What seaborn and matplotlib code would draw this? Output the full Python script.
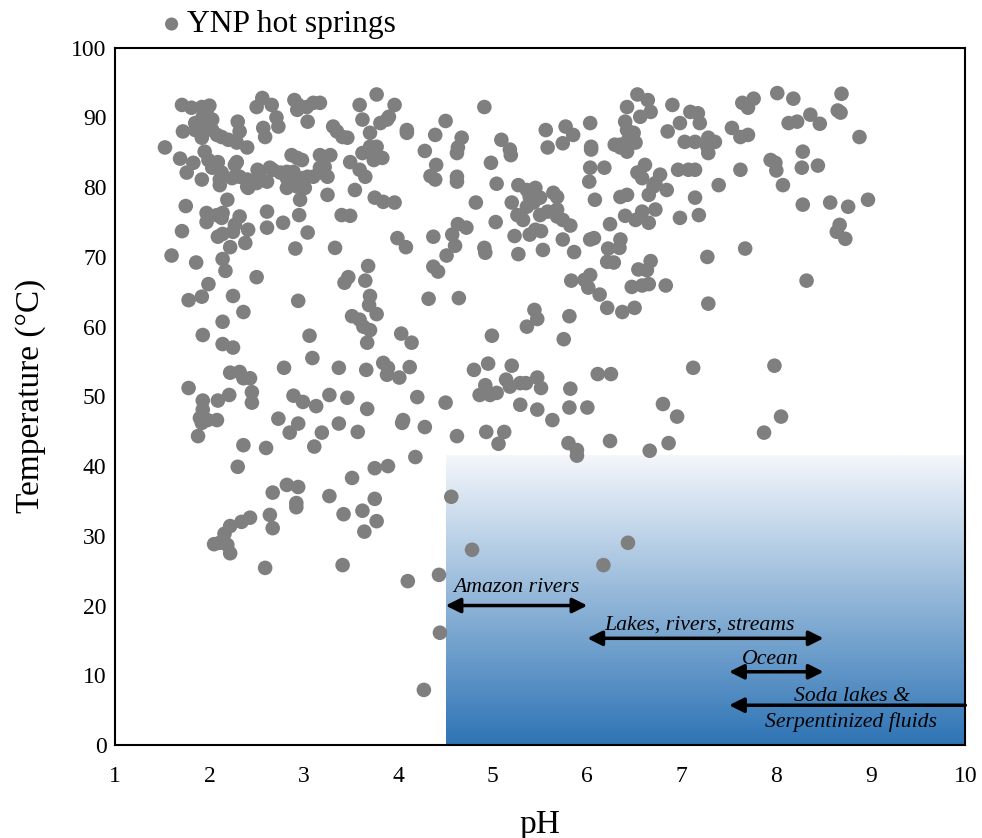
import numpy as np
import pandas as pd
import matplotlib
matplotlib.use("Agg")
import matplotlib.pyplot as plt
from matplotlib.colors import LinearSegmentedColormap
import seaborn as sns

# ---- Data: (pH, Temperature °C) pairs ----
points = [
    # low pH, hot (T 77-95)
    (1.71, 91.8), (1.81, 91.4), (1.92, 91.5), (2.00, 91.7), (1.97, 90.8), (2.03, 89.7), (1.93, 90.1),
    (1.85, 89.2), (1.93, 88.7), (1.72, 88.0), (1.85, 88.2), (1.92, 87.1), (2.03, 88.2), (2.08, 87.5),
    (2.13, 87.2), (2.20, 86.8), (2.29, 86.4), (2.32, 88.0), (2.30, 89.4), (2.40, 85.7), (1.53, 85.7),
    (1.69, 84.1), (1.83, 83.5), (1.76, 82.1), (1.92, 81.1), (1.95, 85.1), (1.99, 83.9), (2.09, 83.6),
    (2.13, 82.1), (2.03, 82.8), (2.11, 81.1), (2.11, 80.3), (2.24, 81.3), (2.27, 83.2), (2.29, 83.6),
    (2.32, 81.5), (2.40, 81.1), (2.40, 80.1), (2.51, 82.5), (2.53, 81.5), (2.64, 82.8), (2.67, 82.5),
    (2.75, 82.1), (2.82, 82.2), (2.89, 82.2), (2.82, 81.3), (2.93, 81.1), (2.99, 81.3), (3.04, 81.5),
    (3.10, 81.5), (3.19, 82.1), (3.25, 81.5), (2.61, 80.8), (2.41, 79.9), (2.50, 80.6), (2.82, 79.9),
    (2.93, 80.1), (3.01, 79.9), (3.17, 82.8), (3.22, 82.9), (3.54, 79.6), (3.49, 83.6), (3.59, 82.5),
    (3.65, 81.5), (3.62, 84.9), (3.70, 85.8), (3.77, 85.8), (3.83, 84.2), (3.74, 83.9), (3.70, 87.8),
    (3.62, 89.7), (3.59, 91.8), (3.77, 93.3), (3.81, 89.2), (3.88, 89.7), (3.90, 90.1), (3.96, 91.8),
    (4.09, 88.2), (4.09, 87.8), (3.31, 88.7), (3.35, 88.0), (3.41, 87.2), (3.46, 87.1), (3.17, 92.1),
    (3.10, 92.1), (3.03, 91.5), (2.94, 91.8), (2.90, 92.5), (2.93, 91.1), (3.04, 89.4), (2.71, 90.0),
    (2.73, 88.7), (2.57, 88.5), (2.59, 87.2), (2.50, 91.5), (2.56, 92.8), (2.66, 91.8), (3.28, 84.6),
    (2.87, 84.6), (2.93, 84.2), (2.98, 83.9), (3.17, 84.6), (1.75, 77.3), (2.19, 78.2), (2.96, 78.2),
    (3.25, 78.9), (3.75, 78.5), (3.84, 77.9), (3.96, 77.8),
    # low pH, T 58-77
    (1.97, 76.3), (2.08, 76.0), (2.14, 76.3), (1.97, 75.0), (2.13, 75.6), (2.32, 75.8), (2.27, 74.6),
    (2.25, 73.6), (2.09, 72.9), (2.14, 73.3), (2.41, 73.9), (2.38, 72.0), (2.22, 71.4), (1.71, 73.7),
    (1.60, 70.2), (1.86, 69.2), (2.14, 69.7), (2.17, 68.0), (1.99, 66.1), (1.92, 64.3), (1.78, 63.8),
    (2.25, 64.4), (2.36, 62.1), (2.14, 60.7), (1.93, 58.8), (2.50, 67.1), (2.61, 76.5), (2.61, 74.2),
    (2.78, 74.9), (2.95, 76.0), (3.04, 73.5), (2.91, 71.2), (2.94, 63.7), (3.33, 71.3), (3.40, 76.0),
    (3.49, 75.9), (3.99, 72.7), (4.08, 71.4), (3.68, 68.7), (3.47, 67.1), (3.43, 66.3), (3.65, 66.6),
    (3.70, 64.4), (3.69, 63.1), (3.77, 61.8), (3.51, 61.5), (3.59, 61.0), (3.63, 60.0), (3.70, 59.5),
    (4.03, 59.0), (3.06, 58.7),
    # low pH, T 39-58
    (2.14, 57.5), (2.25, 57.0), (3.09, 55.5), (2.79, 54.1), (3.37, 54.1), (3.66, 53.8), (3.67, 57.7),
    (4.14, 57.7), (3.84, 54.8), (3.89, 54.1), (3.88, 53.1), (4.01, 52.7), (4.12, 54.2), (2.22, 53.4),
    (2.32, 53.5), (2.36, 52.6), (2.43, 52.6), (1.78, 51.2), (1.93, 49.4), (2.09, 49.4), (2.21, 50.2),
    (2.45, 50.6), (2.45, 49.1), (1.93, 48.1), (1.90, 46.9), (1.92, 46.2), (1.98, 46.6), (2.08, 46.6),
    (1.88, 44.3), (2.36, 43.0), (2.60, 42.6), (2.73, 46.8), (2.89, 50.1), (2.99, 49.2), (2.94, 46.1),
    (2.85, 44.8), (3.13, 48.6), (3.27, 50.2), (3.46, 49.8), (3.67, 48.2), (3.19, 44.8), (3.37, 46.1),
    (3.57, 44.9), (3.11, 42.8), (4.04, 46.2), (4.05, 46.6), (4.20, 49.9), (4.18, 41.3), (2.30, 39.9),
    (3.75, 39.7), (3.89, 40.0),
    # cooler springs
    (2.67, 36.2), (2.82, 37.3), (2.94, 37.0), (2.92, 34.7), (2.92, 34.1), (3.27, 35.7), (3.51, 38.3),
    (3.75, 35.3), (3.62, 33.6), (3.77, 32.1), (3.64, 30.6), (3.42, 33.1), (2.64, 33.0), (2.67, 31.1),
    (2.43, 32.6), (2.34, 32.0), (2.22, 31.4), (2.16, 30.3), (2.05, 28.8), (2.11, 29.0), (2.19, 28.7),
    (2.22, 27.5), (2.59, 25.4), (3.41, 25.8), (4.56, 35.6), (4.10, 23.5), (4.43, 24.4), (4.78, 28.0),
    (6.43, 29.0), (6.17, 25.8), (4.44, 16.1), (4.27, 7.9),
    # mid pH, hot
    (4.91, 91.5), (4.50, 89.5), (4.39, 87.5), (4.67, 87.1), (4.28, 85.2), (4.63, 85.7), (4.62, 84.9),
    (4.40, 83.2), (4.34, 81.6), (4.39, 81.1), (4.62, 81.5), (4.62, 80.8), (4.98, 83.5), (5.09, 86.8),
    (5.18, 85.4), (5.19, 84.6), (5.04, 80.5), (4.82, 77.8), (5.27, 80.3), (5.36, 79.6), (5.45, 79.9),
    (5.39, 78.6), (5.50, 78.5), (5.64, 79.2), (5.68, 78.6), (5.20, 77.8), (5.56, 88.2), (5.58, 85.7),
    (5.77, 88.7), (5.85, 87.5), (5.74, 86.3), (6.03, 89.2), (6.04, 85.8), (6.04, 85.4), (6.03, 82.8),
    (6.02, 80.8), (6.18, 82.8), (6.08, 78.2), (6.35, 86.1), (6.40, 89.4), (6.42, 88.2), (6.45, 87.2),
    (6.49, 87.8), (6.29, 86.1), (6.35, 85.7), (6.42, 85.1), (6.43, 86.7), (6.51, 86.4), (6.42, 91.5),
    (6.53, 93.3), (6.64, 92.5), (6.67, 90.8), (6.56, 90.1), (6.90, 91.8), (7.09, 90.8), (6.98, 89.2),
    (6.85, 88.0), (7.17, 90.6), (7.03, 86.5), (7.14, 86.5), (6.61, 83.2), (6.53, 82.1), (6.58, 81.3),
    (6.77, 81.8), (6.72, 80.6), (6.84, 79.6), (6.70, 80.1), (6.96, 82.5), (7.07, 82.5), (7.14, 82.5),
    (6.65, 78.9), (6.35, 78.6), (6.42, 78.9), (7.14, 78.5),
    # mid pH, T 60-77
    (5.26, 76.0), (5.32, 75.3), (5.36, 77.2), (5.43, 77.8), (5.50, 76.0), (5.58, 76.5), (5.68, 76.8),
    (5.68, 75.8), (5.74, 75.3), (5.82, 74.5), (6.24, 74.7), (6.40, 75.9), (6.51, 75.3), (6.58, 76.5),
    (6.72, 76.8), (6.65, 74.9), (6.98, 75.6), (7.18, 76.0), (5.03, 75.0), (4.63, 74.7), (4.72, 74.2),
    (4.57, 73.2), (4.37, 72.9), (4.60, 71.6), (4.51, 70.2), (4.37, 68.6), (4.42, 67.9), (4.32, 64.0),
    (4.64, 64.1), (4.91, 71.3), (4.92, 70.6), (5.23, 73.0), (5.27, 70.4), (5.39, 73.2), (5.45, 73.9),
    (5.51, 73.7), (5.53, 71.0), (5.74, 72.5), (5.86, 70.7), (6.03, 72.5), (6.07, 72.7), (6.22, 71.2),
    (6.35, 72.5), (6.34, 71.3), (6.21, 69.3), (6.28, 69.2), (6.54, 68.2), (6.67, 69.4), (6.63, 68.1),
    (6.47, 65.7), (6.58, 65.9), (6.65, 66.1), (6.83, 65.9), (5.83, 66.6), (5.97, 66.7), (6.03, 67.4),
    (6.01, 65.6), (6.13, 64.6), (6.21, 62.7), (6.37, 62.1), (6.50, 62.7), (5.44, 62.4), (5.47, 61.1),
    (5.81, 61.5),
    # mid pH, T 40-60
    (4.80, 53.8), (4.95, 54.7), (5.20, 54.4), (4.50, 49.1), (4.28, 45.6), (4.62, 44.3), (4.93, 44.9),
    (5.12, 44.9), (5.06, 43.2), (4.92, 51.6), (4.86, 50.2), (4.97, 50.2), (5.04, 50.5), (5.14, 52.4),
    (5.18, 51.4), (5.29, 51.9), (5.35, 51.9), (5.47, 52.7), (5.51, 51.2), (5.29, 48.8), (5.47, 48.1),
    (5.63, 46.6), (5.82, 51.1), (5.81, 48.4), (6.00, 48.4), (6.11, 53.2), (6.25, 53.2), (7.12, 54.1),
    (5.80, 43.3), (5.89, 42.3), (5.89, 41.5), (6.24, 43.6), (6.66, 42.2), (6.86, 43.3), (6.80, 48.9),
    (6.95, 47.1), (4.99, 58.7), (5.36, 60.0), (5.75, 58.2),
    # alkaline springs
    (8.01, 93.5), (8.18, 92.7), (8.69, 93.4), (8.65, 91.0), (8.68, 90.7), (7.64, 92.1), (7.76, 92.7),
    (7.70, 91.4), (8.13, 89.2), (8.22, 89.4), (8.36, 90.4), (8.46, 89.1), (7.19, 89.2), (7.53, 88.5),
    (7.62, 87.2), (7.70, 87.5), (7.28, 87.1), (7.35, 86.5), (7.27, 85.8), (7.28, 84.9), (8.88, 87.2),
    (8.28, 85.1), (7.94, 83.9), (7.99, 83.5), (8.00, 82.4), (8.27, 82.8), (8.44, 83.1), (7.62, 82.5),
    (8.07, 80.3), (7.39, 80.3), (8.57, 77.8), (8.97, 78.2), (8.76, 77.2), (8.28, 77.5), (8.67, 74.6),
    (8.64, 73.6), (8.73, 72.6), (7.67, 71.2), (7.27, 70.0), (8.32, 66.6), (7.28, 63.3), (7.98, 54.4),
    (8.05, 47.1), (7.87, 44.8),
]
ph = [p[0] for p in points]
temperature = [p[1] for p in points]

x_ticks = [1, 2, 3, 4, 5, 6, 7, 8, 9, 10]
y_ticks = [0, 10, 20, 30, 40, 50, 60, 70, 80, 90, 100]

# Environmental ranges: arrows from pH start to pH end (head(s) at the ends)
range_ph_start = [4.5, 6.0, 7.5, 7.5]
range_ph_end = [6.0, 8.5, 8.5, 10.0]
range_temp = [20.0, 15.3, 10.5, 5.7]
range_both_heads = [True, True, True, False]

df = pd.DataFrame({"pH": ph, "Temperature": temperature})

sns.set_style("white")
plt.rcParams["font.family"] = ["Liberation Serif", "DejaVu Serif"]
plt.rcParams["text.color"] = "black"
plt.rcParams["axes.labelcolor"] = "black"

fig = plt.figure(figsize=(9.82, 8.38), dpi=100)
ax = fig.add_axes([0.117, 0.111, 0.866, 0.832])

# gradient box for natural surface waters (dark at bottom, light at top)
cmap = LinearSegmentedColormap.from_list("blue_grad", ["#F4F7FB", "#2E74B5"])
grad = np.linspace(1, 0, 256).reshape(-1, 1)
ax.imshow(grad, extent=[4.5, 10, 0, 41.5], cmap=cmap, vmin=0, vmax=1, aspect="auto",
          zorder=0, origin="lower", interpolation="bilinear")

sns.scatterplot(data=df, x="pH", y="Temperature", ax=ax, color="#7F7F7F", s=110,
                edgecolor="none", linewidth=0, label="YNP hot springs", zorder=3)

# range arrows
for i in range(len(range_temp)):
    style = "<|-|>" if range_both_heads[i] else "<|-"
    ax.annotate("", xy=(range_ph_end[i], range_temp[i]), xytext=(range_ph_start[i], range_temp[i]),
                arrowprops=dict(arrowstyle=style, color="black", lw=2.5,
                                mutation_scale=22, shrinkA=0, shrinkB=0), zorder=4)

fs_txt = 15.7
ax.text(5.25, 22.6, "Amazon rivers", ha="center", va="center", style="italic", fontsize=fs_txt, color="black", zorder=5)
ax.text(7.19, 17.2, "Lakes, rivers, streams", ha="center", va="center", style="italic", fontsize=fs_txt, color="black", zorder=5)
ax.text(7.94, 12.3, "Ocean", ha="center", va="center", style="italic", fontsize=fs_txt, color="black", zorder=5)
ax.text(8.80, 7.0, "Soda lakes &", ha="center", va="center", style="italic", fontsize=fs_txt, color="black", zorder=5)
ax.text(8.79, 3.3, "Serpentinized fluids", ha="center", va="center", style="italic", fontsize=fs_txt, color="black", zorder=5)

ax.set_xlim(1, 10)
ax.set_ylim(0, 100)
ax.set_xticks(x_ticks)
ax.set_yticks(y_ticks)
ax.tick_params(axis="both", direction="in", length=6, width=1.2, labelsize=17, colors="black")
ax.tick_params(axis="x", pad=15)
ax.tick_params(axis="y", pad=6)
ax.set_xlabel("pH", fontsize=24, labelpad=16, color="black")
ax.set_ylabel("Temperature (°C)", fontsize=24, labelpad=18, color="black")
for sp in ax.spines.values():
    sp.set_color("black")
    sp.set_linewidth(1.5)
    sp.set_visible(True)

leg = ax.legend(loc="center left", bbox_to_anchor=(0.05, 1.033), frameon=False, fontsize=22.7,
                handletextpad=0.05, handlelength=0.9, borderpad=0, borderaxespad=0, markerscale=0.9)
for t in leg.get_texts():
    t.set_color("black")

fig.savefig("out.png", dpi=100)
